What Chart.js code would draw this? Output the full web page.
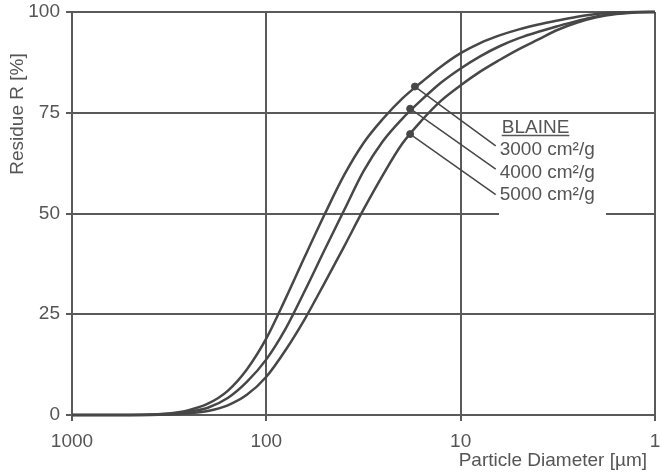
<!DOCTYPE html>
<html><head><meta charset="utf-8">
<script src="https://cdn.jsdelivr.net/npm/chart.js@4"></script>
<style>html,body{margin:0;padding:0;background:#fff}</style>
</head><body>
<canvas id="c" width="660" height="474"></canvas>
<script>
// ---- data ----
const diameters   = [1000, 500, 398, 316, 251, 200, 158, 126, 100, 79.4, 63.1, 50.1, 39.8, 31.6, 25.1, 20, 15.8, 12.6, 10, 7.94, 6.31, 5.01, 3.98, 3.16, 2.51, 2, 1.58, 1.26, 1];
const residue3000 = [0, 0, 0.1, 0.4, 1.2, 2.8, 6.0, 11.3, 19, 29, 39.5, 49.8, 59.5, 67.5, 73.5, 78.5, 82.7, 86.5, 89.8, 92.3, 94.2, 95.7, 96.9, 97.9, 98.8, 99.5, 99.85, 100, 100];
const residue4000 = [0, 0, 0.05, 0.3, 0.8, 1.8, 4.2, 8.2, 13.8, 21.5, 31, 41, 50.8, 60.5, 68, 73.5, 78.3, 82.5, 86, 89, 91.5, 93.5, 95.1, 96.5, 97.8, 98.9, 99.6, 99.95, 100];
const residue5000 = [0, 0, 0.02, 0.15, 0.45, 1.0, 2.4, 5.0, 9.5, 16.2, 24, 32.8, 41.8, 51, 59.6, 67.3, 73.2, 78, 81.8, 85.2, 88.1, 90.8, 93.2, 95.6, 97.4, 98.7, 99.5, 99.9, 100];
const seriesLabels = ['3000 cm²/g', '4000 cm²/g', '5000 cm²/g'];
const legendTitle = 'BLAINE';
const markerDiameters = [17.2, 18.2, 18.2];
const markerResidues  = [81.5, 76, 69.7];
const leaderEndDiameter = 6.6;
const leaderEndResidues = [66.8, 61.0, 54.7];
const xTickValues = [1000, 100, 10, 1];
const yTickValues = [0, 25, 50, 75, 100];
const xTitle = 'Particle Diameter [µm]';
const yTitle = 'Residue R [%]';

// ---- styling ----
const INK = '#474747';
const GRID = '#5a5a5a';
const TXT = '#555555';
const FONT = '"Liberation Sans", Arial, sans-serif';
const FS = 19;

const toPts = arr => diameters.map((d, i) => ({x: d, y: arr[i]}));
const curves = [residue3000, residue4000, residue5000].map((arr, i) => ({
  type: 'line', label: seriesLabels[i], data: toPts(arr),
  borderColor: INK, borderWidth: 2.5, pointRadius: 0, fill: false,
  cubicInterpolationMode: 'monotone', clip: 6, order: 2
}));
const leaders = markerDiameters.map((d, i) => ({
  type: 'line', label: 'leader' + i,
  data: [{x: d, y: markerResidues[i]}, {x: leaderEndDiameter, y: leaderEndResidues[i]}],
  borderColor: INK, borderWidth: 1.5, pointRadius: 0, tension: 0, fill: false, order: 1
}));
const markers = {
  type: 'scatter', label: 'markers',
  data: markerDiameters.map((d, i) => ({x: d, y: markerResidues[i]})),
  backgroundColor: INK, borderColor: INK, pointRadius: 3.5, showLine: false, order: 0
};

const annot = {
  id: 'annot',
  beforeDatasetsDraw(chart) {
    const ctx = chart.ctx;
    ctx.save();
    ctx.fillStyle = '#ffffff';
    ctx.fillRect(499, 117, 107, 99);
    ctx.restore();
  },
  afterDatasetsDraw(chart) {
    const ctx = chart.ctx;
    const xs = chart.scales.x;
    const lx = xs.getPixelForValue(leaderEndDiameter) + 4;
    ctx.save();
    ctx.fillStyle = TXT;
    ctx.font = FS + 'px ' + FONT;
    ctx.textAlign = 'left';
    ctx.textBaseline = 'alphabetic';
    ctx.fillText(legendTitle, lx + 2, 133);
    const w = ctx.measureText(legendTitle).width;
    ctx.strokeStyle = TXT; ctx.lineWidth = 1.5;
    ctx.beginPath(); ctx.moveTo(lx + 2, 135.5); ctx.lineTo(lx + 2 + w, 135.5); ctx.stroke();
    seriesLabels.forEach((s, i) => ctx.fillText(s, lx, 155 + i * 22.5));
    // axis titles
    ctx.textAlign = 'right'; ctx.textBaseline = 'middle';
    ctx.fillText(xTitle, 647, 461);
    ctx.translate(18, 114); ctx.rotate(-Math.PI / 2);
    ctx.textAlign = 'center';
    ctx.fillText(yTitle, 0, 0);
    ctx.restore();
  }
};

new Chart(document.getElementById('c'), {
  data: { datasets: [...curves, ...leaders, markers] },
  options: {
    responsive: false, devicePixelRatio: 1, animation: false,
    layout: { padding: { top: 12, right: 2, bottom: 0, left: 0 } },
    plugins: { legend: { display: false }, tooltip: { enabled: false } },
    scales: {
      x: {
        type: 'logarithmic', reverse: true, min: 1, max: 1000,
        afterBuildTicks: s => { s.ticks = xTickValues.map(v => ({value: v})); },
        afterFit: s => { s.height = 59; s.paddingLeft = 0; s.paddingRight = 0; },
        ticks: { color: TXT, font: { family: FONT, size: FS }, padding: 9, maxRotation: 0, autoSkip: false,
                 callback: v => String(v) },
        grid: { color: GRID, lineWidth: 2, tickLength: 6 },
        border: { color: GRID, width: 2 },
        title: { display: false }
      },
      y: {
        type: 'linear', min: 0, max: 100,
        afterBuildTicks: s => { s.ticks = yTickValues.map(v => ({value: v})); },
        afterFit: s => { s.width = 72; s.paddingTop = 0; s.paddingBottom = 0; },
        ticks: { color: TXT, font: { family: FONT, size: FS }, padding: 6 },
        grid: { color: GRID, lineWidth: 2, tickLength: 6 },
        border: { color: GRID, width: 2 },
        title: { display: false }
      }
    }
  },
  plugins: [annot]
});
</script>
</body></html>
